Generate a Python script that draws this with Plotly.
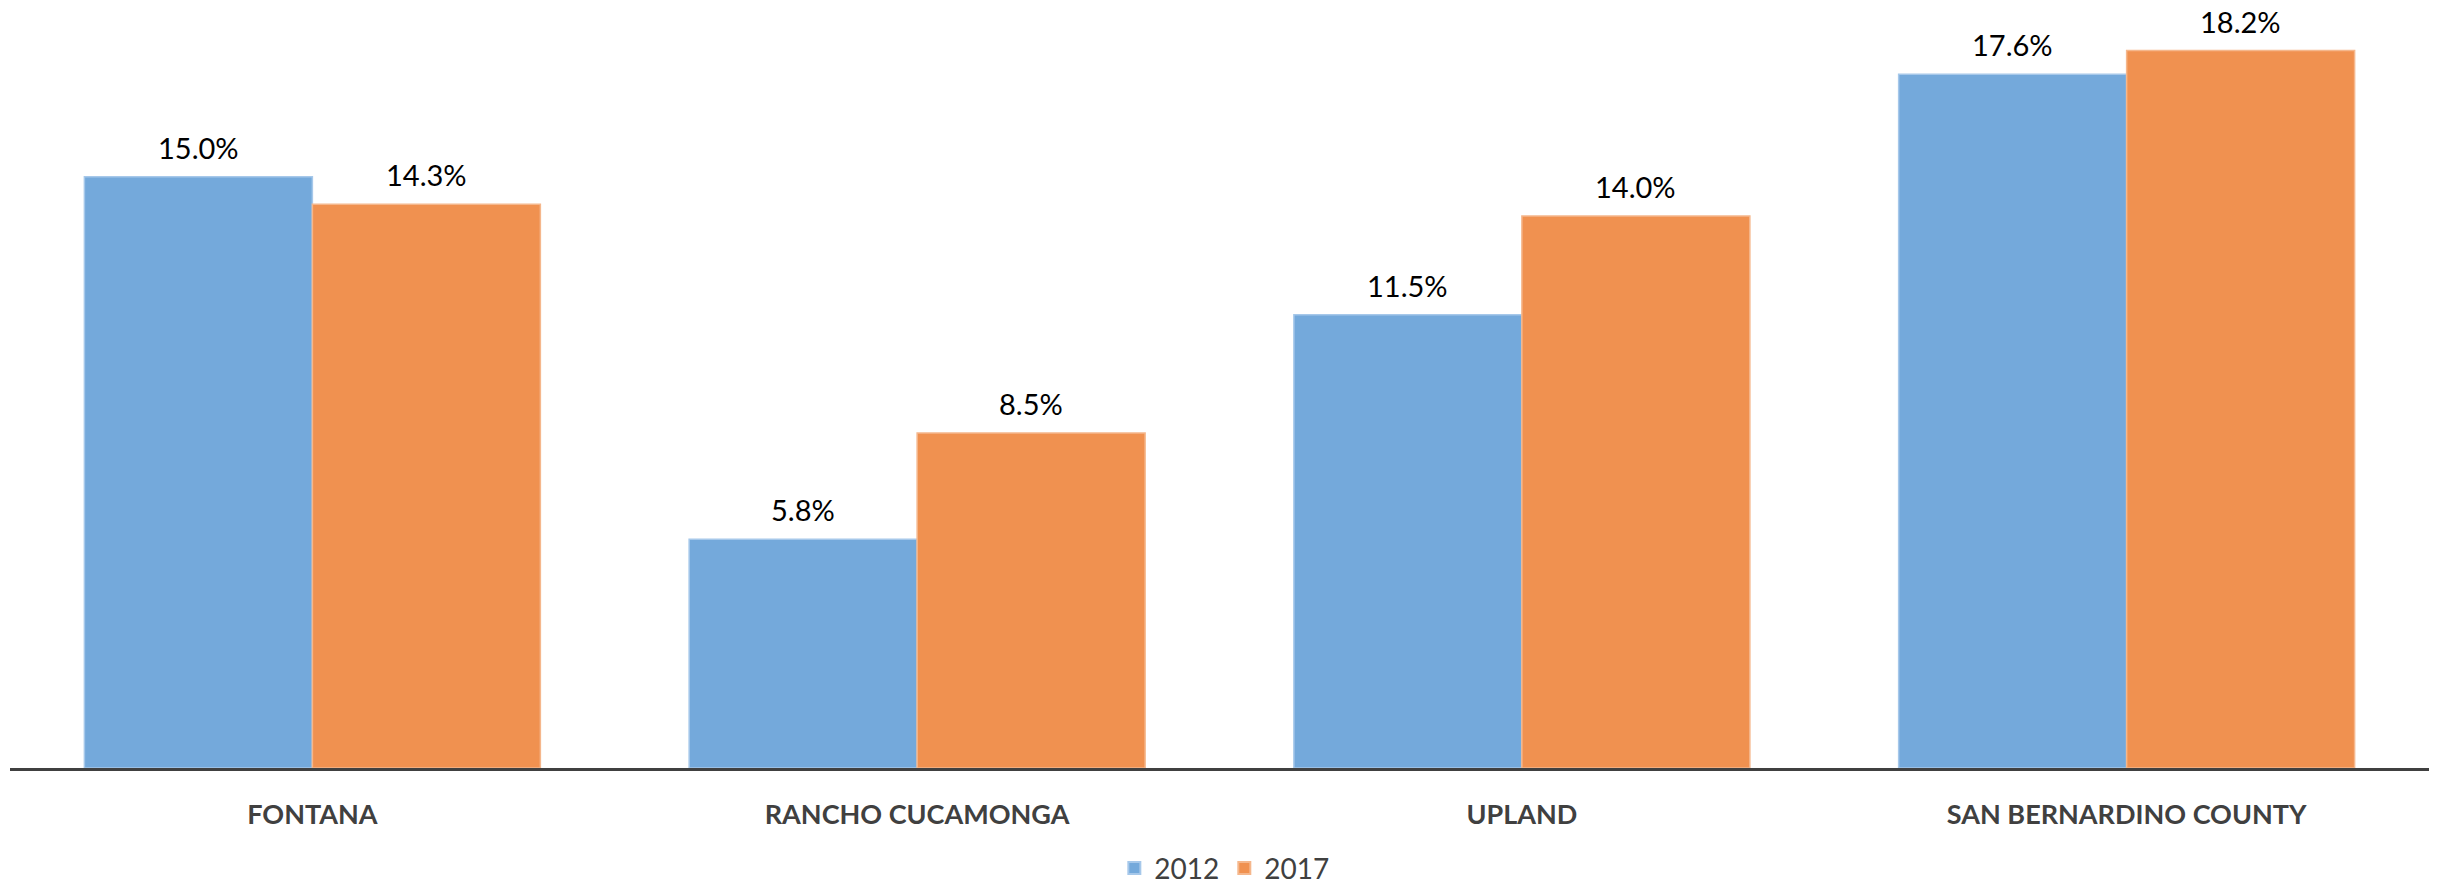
import plotly.graph_objects as go

categories = ["FONTANA", "RANCHO CUCAMONGA", "UPLAND", "SAN BERNARDINO COUNTY"]
series_names = ["2012", "2017"]
values_2012 = [15.0, 5.8, 11.5, 17.6]
values_2017 = [14.3, 8.5, 14.0, 18.2]

colors = ["#74A9DB", "#F09150"]
edge_colors = ["#A6C8EA", "#F5B78C"]
FONT = "Lato"

fig = go.Figure()
for name, vals, c, ec in zip(series_names, [values_2012, values_2017], colors, edge_colors):
    fig.add_trace(go.Bar(
        x=categories, y=vals, name=name,
        marker=dict(color=c, line=dict(color=ec, width=1.5)),
    ))

# data labels
bar_half = 114
for i, vals in enumerate([values_2012, values_2017]):
    shift = -bar_half if i == 0 else bar_half
    for cat, v in zip(categories, vals):
        fig.add_annotation(
            x=cat, y=v, xref="x", yref="y",
            text=f"{v:.1f}%", showarrow=False,
            xshift=shift, yanchor="bottom", yshift=11, borderpad=0,
            font=dict(family=FONT, size=29, color="#000000"),
        )

fig.update_layout(
    width=2445, height=887,
    margin=dict(l=10, r=16, t=19, b=119, autoexpand=False),
    paper_bgcolor="white", plot_bgcolor="white",
    barmode="group", bargap=0.246, bargroupgap=0,
    showlegend=True,
    legend=dict(
        orientation="h", x=0.502, xanchor="center", y=-0.134, yanchor="middle",
        font=dict(family=FONT, size=28, color="#404040"),
        itemsizing="constant", bgcolor="rgba(0,0,0,0)",
    ),
    font=dict(family=FONT),
)
fig.update_xaxes(
    showline=True, linecolor="#404040", linewidth=3.3,
    showgrid=False, ticks="", ticklabelstandoff=20,
    tickfont=dict(family=FONT, size=27, color="#404040", weight="bold"),
)
fig.update_yaxes(range=[0, 19], visible=False, showgrid=False, zeroline=False)

fig.write_html(
    "out.html",
    config={"displayModeBar": False},
    post_script="document.body.style.margin='0';document.body.style.overflow='hidden';",
)
